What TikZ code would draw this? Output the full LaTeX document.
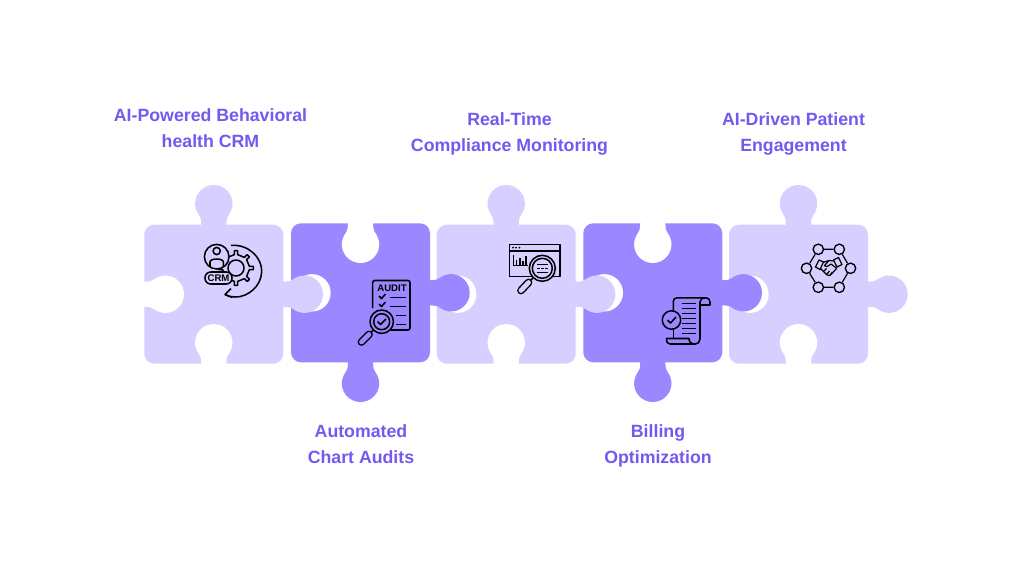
\documentclass[tikz,border=0pt]{standalone}
\usepackage{fontspec}
\setmainfont{Liberation Sans}
\definecolor{lightpiece}{HTML}{D6CFFF}
\definecolor{darkpiece}{HTML}{9B87FF}
\definecolor{titlecolor}{HTML}{7658F0}
% one tab of a piece, pointing up, its base on the edge
\newcommand{\tabpath}{(-12.5,1.5) -- (-12.5,0) .. controls (-12.5,-3) and (-12.6,-6.8) .. (-15,-10)
    .. controls (-17.2,-13) and (-18.7,-17.3) .. (-18.7,-21)
    .. controls (-18.7,-31.3) and (-10.3,-39.7) .. (0,-39.7)
    .. controls (10.3,-39.7) and (18.7,-31.3) .. (18.7,-21)
    .. controls (18.7,-17.3) and (17.2,-13) .. (15,-10)
    .. controls (12.6,-6.8) and (12.5,-3) .. (12.5,0) -- (12.5,1.5) -- cycle}
\begin{document}
\begin{tikzpicture}[x=0.75pt, y=-0.75pt, line join=round]
    \tikzstyle{title_style} = [text=titlecolor, font=\fontsize{13.3}{19.5}\selectfont\bfseries, align=center]
    \tikzstyle{piece_body} = [rounded corners=7.5pt]
    \tikzstyle{icon_line} = [black, line width=1.15pt]
    \tikzstyle{icon_thin} = [black, line width=0.9pt]
    \tikzstyle{hex_node} = [draw=black, line width=1pt, circle, fill=lightpiece, minimum size=7.8pt, inner sep=0pt]

    \fill[white, use as bounding box] (0,0) rectangle (1024,576);

    % bodies
    \foreach \px in {144.3, 436.7, 729} {
        \fill[lightpiece, piece_body] (\px,224.7) rectangle (\px+139,363.7);
    }
    \foreach \px in {291, 583.3} {
        \fill[darkpiece, piece_body] (\px,223.3) rectangle (\px+139,362.3);
    }

    % holes
    \foreach \px in {144.3, 436.7, 729} {
        \fill[white, shift={(\px,294.2)}, rotate=-90] \tabpath;
        \fill[white, shift={(\px+69.5,363.7)}] \tabpath;
    }
    \foreach \px in {291, 583.3} {
        \fill[white, shift={(\px,292.8)}, rotate=-90] \tabpath;
        \fill[white, shift={(\px+69.5,223.3)}, rotate=180] \tabpath;
    }

    % knobs
    \foreach \px in {144.3, 436.7, 729} {
        \fill[lightpiece, shift={(\px+69.5,224.7)}] \tabpath;
        \fill[lightpiece, shift={(\px+139,294.2)}, rotate=-90] \tabpath;
    }
    \foreach \px in {291, 583.3} {
        \fill[darkpiece, shift={(\px+139,292.8)}, rotate=-90] \tabpath;
        \fill[darkpiece, shift={(\px+69.5,362.3)}, rotate=180] \tabpath;
    }

    % titles
    \node[title_style] (nBehavioral) at (210.5,128) {AI-Powered Behavioral\\health CRM};
    \node[title_style] (nCompliance) at (509.5,134) {Real-Time\\Compliance Monitoring};
    \node[title_style] (nEngagement) at (793.5,134) {AI-Driven Patient\\Engagement};
    \node[title_style] (nAudits) at (361,444) {Automated\\Chart Audits};
    \node[title_style] (nBilling) at (658,446) {Billing\\Optimization};

    % crm icon
    \draw[icon_line] (236,268) circle (8);
    \begin{scope}[shift={(236,268)}]
        \draw[icon_line] ({-7}:13.5) \foreach \a in {0,45,...,315} {
            -- ({\a-7}:13.5) -- ({\a-5}:17.5) -- ({\a+5}:17.5) -- ({\a+7}:13.5)
        } -- cycle;
    \end{scope}
    \draw[icon_line, fill=lightpiece] (216.7,256.7) circle (12.3);
    \draw[icon_line] (216.7,251) circle (3.6);
    \draw[icon_line] (210,266.5) -- (210,262) .. controls (210,258) and (223.4,258) .. (223.4,262) -- (223.4,266.5);
    \draw[icon_line, fill=lightpiece, rounded corners=4.3pt] (205,272) rectangle (232,284);
    \node[inner sep=0pt, font=\fontsize{7.2}{7}\selectfont\bfseries] (nCrmText) at (218.5,278) {CRM};
    \draw[icon_line] (231,245.4) .. controls (248,244) and (261.7,257) .. (261.7,271)
        .. controls (261.7,286) and (248,297) .. (235.7,297) .. controls (232,297) and (229,296.5) .. (225,294.5);
    \draw[icon_line] (231,288.5) -- (225,294.5) -- (232.5,297.5);

    % audit icon
    \draw[icon_line, rounded corners=1.5pt] (372.7,308) -- (372.7,280.5) -- (410,280.5) -- (410,330) -- (391,330);
    \node[inner sep=0pt, font=\fontsize{7.2}{7}\selectfont\bfseries] (nAuditText) at (392,287.8) {AUDIT};
    \draw[icon_line] (379,296) -- (381.5,298.5) -- (385.5,294);
    \draw[icon_line] (379,304) -- (381.5,306.5) -- (385.5,302);
    \draw[icon_line] (389.5,297.5) -- (406,297.5);
    \draw[icon_line] (389.5,306.5) -- (406,306.5);
    \draw[icon_line] (396,315.5) -- (406,315.5);
    \draw[icon_line] (396,324.5) -- (406,324.5);
    \draw[icon_line, fill=darkpiece] (381.7,321.7) circle (11.7);
    \draw[icon_line] (381.7,321.7) circle (8);
    \draw[icon_line] (377.5,321.5) -- (380.5,324.5) -- (386,319);
    \draw[icon_line] (373.5,330) -- (369,334.5);
    \draw[black, line width=5.8pt, line cap=round] (369,334.5) -- (361.5,342);
    \draw[darkpiece, line width=3.6pt, line cap=round] (369,334.5) -- (361.5,342);

    % monitoring icon
    \draw[icon_line] (509.5,244.5) rectangle (560,276.5);
    \draw[icon_line] (509.5,250.8) -- (560,250.8);
    \foreach \dx in {513,516,519.5} {
        \fill[black] (\dx,247.6) circle (0.9);
    }
    \draw[icon_thin] (513.3,255) -- (513.3,265.7) -- (528,265.7);
    \foreach \dx/\dy in {516.5/260, 520/258, 523/261, 526/256} {
        \draw[icon_line] (\dx,265.7) -- (\dx,\dy);
    }
    \draw[icon_line, fill=lightpiece] (542.3,268.3) circle (13);
    \draw[icon_line] (542.3,268.3) circle (10);
    \draw[icon_thin] (537,264.5) -- (548,264.5);
    \draw[icon_thin, dash pattern=on 2pt off 1pt] (537,268.5) -- (548,268.5);
    \draw[icon_thin] (537,272.5) -- (548,272.5);
    \draw[icon_line] (533,278) -- (529.5,281.5);
    \draw[black, line width=5.8pt, line cap=round] (528.5,282.5) -- (521,290.5);
    \draw[lightpiece, line width=3.6pt, line cap=round] (528.5,282.5) -- (521,290.5);

    % billing icon
    \draw[icon_line] (673.3,310.5) -- (673.3,301.5) .. controls (673.3,299) and (675,297.8) .. (677,297.8)
        -- (706,297.8) .. controls (708.5,297.8) and (710,299.5) .. (710,302) -- (710,305) -- (700,305);
    \draw[icon_line] (706,297.8) .. controls (702,297.8) and (700,299.5) .. (700,302) -- (700,339)
        .. controls (700,342) and (698,344) .. (695.5,344) -- (670,344) .. controls (667.5,344) and (666.5,342) .. (666.5,338.5) -- (689,338.5)
        .. controls (689,342) and (691,344) .. (695.5,344);
    \draw[icon_line] (673.3,329) -- (673.3,338.5);
    \foreach \ly in {303.5,308.5,313.5,318.5,323.5,328.5,333.5} {
        \draw[icon_line] (682,\ly) -- (695.5,\ly);
    }
    \draw[icon_line, fill=darkpiece] (671.5,320) circle (9.2);
    \draw[icon_line] (667.5,320) -- (670.5,323) -- (676,317);

    % engagement icon
    \node[hex_node] (nHexA) at (818.3,249.3) {};
    \node[hex_node] (nHexB) at (839.3,249.3) {};
    \node[hex_node] (nHexC) at (850.5,268.3) {};
    \node[hex_node] (nHexD) at (839.3,287.3) {};
    \node[hex_node] (nHexE) at (818.3,287.3) {};
    \node[hex_node] (nHexF) at (806.5,268.3) {};
    \draw[icon_thin] (nHexA) -- (nHexB) -- (nHexC) -- (nHexD) -- (nHexE) -- (nHexF) -- (nHexA);
    \draw[icon_thin, fill=lightpiece] (815.5,267) -- (819,260) -- (823.5,262) -- (820,269.5) -- cycle;
    \draw[icon_thin, fill=lightpiece] (833.5,260) -- (838.5,257.5) -- (842,264.5) -- (837,267) -- cycle;
    \draw[icon_thin] (823,262.5) -- (829,260.5) -- (833.5,261);
    \draw[icon_thin] (829,260.5) -- (824.5,265.5) .. controls (826,267.5) and (829,266) .. (831,264) -- (837,268.5);
    \draw[icon_thin] (820.5,268.5) -- (826.5,274.5) .. controls (828,276.5) and (831,276) .. (832,273.5) -- (836.5,268.5);
    \draw[icon_thin] (823.5,271.5) -- (826.5,268.5);
    \draw[icon_thin] (826.5,274.5) -- (829.5,271);
    \draw[icon_thin] (830,275) -- (832.5,272);
\end{tikzpicture}
\end{document}
